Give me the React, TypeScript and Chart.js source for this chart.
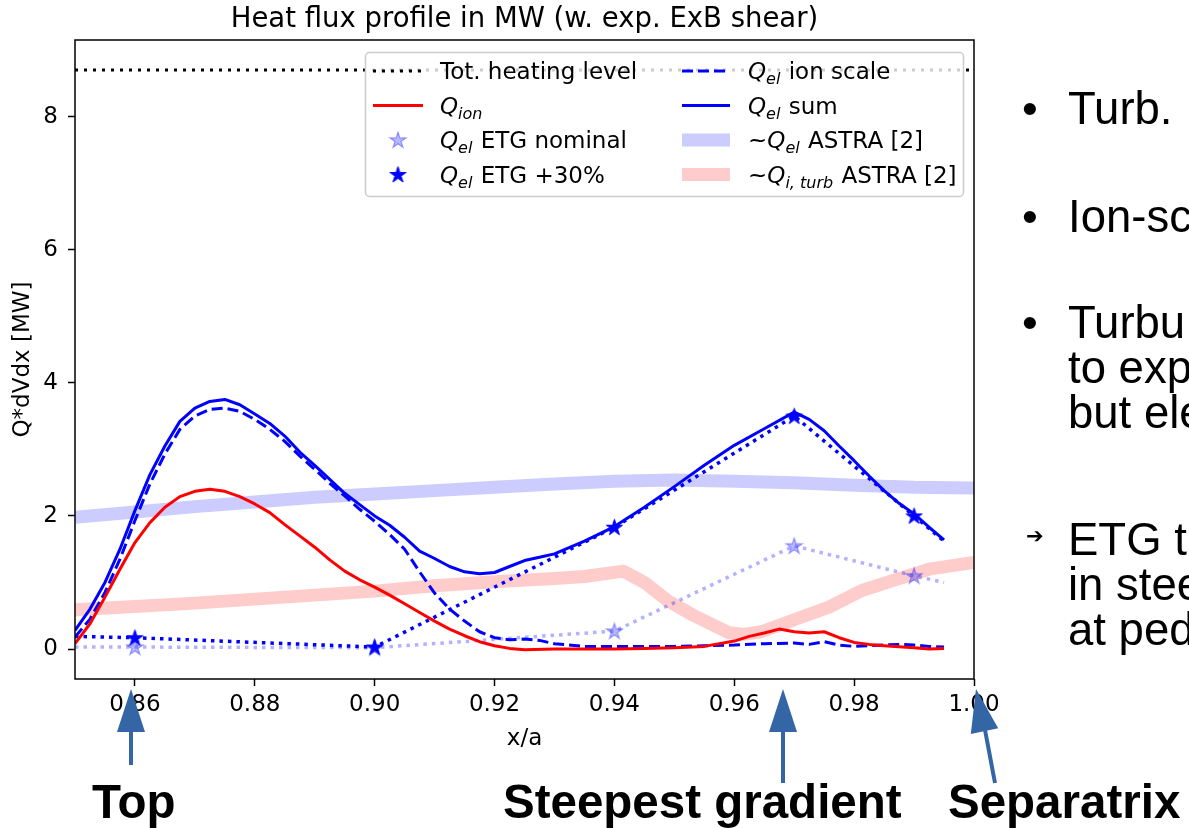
import React, { useEffect, useRef } from 'react';
import { Chart, registerables } from 'chart.js';

Chart.register(...registerables);

// ---------------- data ----------------
const TITLE = 'Heat flux profile in MW (w. exp. ExB shear)';
const X_LABEL = 'x/a';
const Y_LABEL = 'Q*dVdx [MW]';

const xTicks = [0.86, 0.88, 0.9, 0.92, 0.94, 0.96, 0.98, 1.0];
const yTicks = [0, 2, 4, 6, 8];

const heatingX = [0.85, 1.0];
const heatingY = [8.7, 8.7];

const qionX = [0.850, 0.8525, 0.855, 0.8575, 0.860, 0.8625, 0.865, 0.8675, 0.870, 0.8725, 0.875, 0.8775, 0.880, 0.8825, 0.885, 0.8875, 0.890, 0.8925, 0.895, 0.8975, 0.900, 0.9025, 0.905, 0.9075, 0.910, 0.9125, 0.915, 0.9175, 0.920, 0.9225, 0.925, 0.930, 0.935, 0.940, 0.945, 0.950, 0.955, 0.960, 0.9625, 0.965, 0.9675, 0.970, 0.9725, 0.975, 0.9775, 0.980, 0.9825, 0.985, 0.990, 0.9925, 0.995];
const qionY = [0.08, 0.38, 0.78, 1.2, 1.6, 1.9, 2.13, 2.29, 2.37, 2.4, 2.37, 2.29, 2.18, 2.05, 1.87, 1.7, 1.53, 1.34, 1.17, 1.04, 0.93, 0.81, 0.68, 0.55, 0.42, 0.3, 0.2, 0.11, 0.05, 0.01, -0.01, 0.0, 0.0, 0.0, 0.01, 0.02, 0.04, 0.12, 0.19, 0.24, 0.3, 0.26, 0.24, 0.26, 0.17, 0.1, 0.07, 0.05, 0.02, 0.0, 0.01];

const elX = [0.850, 0.8525, 0.855, 0.8575, 0.860, 0.8625, 0.865, 0.8675, 0.870, 0.8725, 0.875, 0.8775, 0.880, 0.8825, 0.885, 0.8875, 0.890, 0.8925, 0.895, 0.8975, 0.900, 0.9025, 0.905, 0.9075, 0.910, 0.9125, 0.915, 0.9175, 0.920, 0.9225, 0.925, 0.9275, 0.930, 0.935, 0.940, 0.945, 0.950, 0.955, 0.960, 0.965, 0.970, 0.9725, 0.975, 0.9775, 0.980, 0.9825, 0.985, 0.9875, 0.990, 0.9925, 0.995];
const elSumY = [0.28, 0.6, 1.0, 1.5, 2.08, 2.62, 3.05, 3.42, 3.62, 3.72, 3.75, 3.67, 3.53, 3.39, 3.2, 2.96, 2.76, 2.55, 2.34, 2.17, 2.0, 1.86, 1.68, 1.47, 1.36, 1.24, 1.16, 1.13, 1.15, 1.24, 1.33, 1.38, 1.43, 1.62, 1.84, 2.13, 2.44, 2.76, 3.06, 3.31, 3.56, 3.45, 3.28, 3.05, 2.83, 2.6, 2.38, 2.19, 2.03, 1.83, 1.64];
const elIonScaleY = [0.18, 0.45, 0.85, 1.35, 1.93, 2.48, 2.93, 3.3, 3.5, 3.6, 3.62, 3.57, 3.45, 3.3, 3.12, 2.9, 2.7, 2.49, 2.3, 2.1, 1.92, 1.72, 1.5, 1.16, 0.84, 0.6, 0.42, 0.26, 0.17, 0.14, 0.15, 0.13, 0.08, 0.04, 0.04, 0.04, 0.04, 0.05, 0.06, 0.08, 0.09, 0.07, 0.11, 0.06, 0.04, 0.05, 0.06, 0.07, 0.06, 0.04, 0.03];

const etgX = [0.85, 0.86, 0.90, 0.94, 0.97, 0.99, 0.995];
const etgMarker = [false, true, true, true, true, true, false];
const etgNominalY = [0.03, 0.03, 0.02, 0.27, 1.55, 1.1, 1.0];
const etgPlus30Y = [0.19, 0.17, 0.03, 1.83, 3.5, 2.0, 1.62];

const astraElX = [0.85, 0.86, 0.87, 0.88, 0.89, 0.90, 0.91, 0.92, 0.93, 0.94, 0.95, 0.96, 0.97, 0.98, 0.99, 1.0];
const astraElY = [1.98, 2.06, 2.14, 2.21, 2.28, 2.33, 2.38, 2.43, 2.48, 2.52, 2.54, 2.52, 2.5, 2.46, 2.43, 2.42];

const astraIonX = [0.85, 0.86, 0.87, 0.88, 0.89, 0.90, 0.91, 0.92, 0.93, 0.935, 0.9415, 0.945, 0.949, 0.9533, 0.959, 0.9615, 0.9645, 0.970, 0.9758, 0.9813, 0.9868, 0.9925, 1.0];
const astraIonY = [0.59, 0.64, 0.69, 0.75, 0.81, 0.87, 0.95, 1.01, 1.06, 1.09, 1.17, 1.0, 0.72, 0.5, 0.25, 0.22, 0.26, 0.44, 0.63, 0.88, 1.04, 1.2, 1.3];

const slideLines = [
  { text: 'Turb.', bullet: '•', top: 86 },
  { text: 'Ion-sc', bullet: '•', top: 194 },
  { text: 'Turbu', bullet: '•', top: 300 },
  { text: 'to exp', bullet: '', top: 345 },
  { text: 'but ele', bullet: '', top: 390 },
  { text: 'ETG t', bullet: '➔', top: 517 },
  { text: 'in stee', bullet: '', top: 562 },
  { text: 'at ped', bullet: '', top: 607 },
];

const bottomLabels = [
  { text: 'Top', left: 92 },
  { text: 'Steepest gradient', left: 503 },
  { text: 'Separatrix', left: 948 },
];

// ---------------- helpers ----------------
const pts = (xs: number[], ys: number[]) => xs.map((x, i) => ({ x, y: ys[i] }));

function makeStar(R: number, fill: string, stroke: string, lw: number) {
  const c = document.createElement('canvas');
  const size = Math.ceil(2 * R + 2 * lw + 2);
  c.width = size;
  c.height = size;
  const g = c.getContext('2d')!;
  const cx = size / 2;
  const cy = size / 2 + 0.6;
  const r = R * 0.382;
  g.beginPath();
  for (let i = 0; i < 10; i++) {
    const rad = i % 2 === 0 ? R : r;
    const ang = -Math.PI / 2 + (i * Math.PI) / 5;
    const px = cx + rad * Math.cos(ang);
    const py = cy + rad * Math.sin(ang);
    if (i === 0) g.moveTo(px, py);
    else g.lineTo(px, py);
  }
  g.closePath();
  g.fillStyle = fill;
  g.fill();
  g.lineWidth = lw;
  g.strokeStyle = stroke;
  g.lineJoin = 'miter';
  g.stroke();
  return c;
}

type Part = { t: string; it?: boolean; sub?: boolean };

const FONT = "'DejaVu Sans'";
const FS = 23;

function drawRich(ctx: CanvasRenderingContext2D, x: number, y: number, parts: Part[]) {
  let cx = x;
  for (const p of parts) {
    const size = p.sub ? 16 : FS;
    ctx.font = `${p.it ? 'italic ' : ''}${size}px ${FONT}`;
    ctx.fillText(p.t, cx, y + (p.sub ? 5 : 0));
    cx += ctx.measureText(p.t).width + (p.sub ? 1 : 0);
  }
}

const Qel: Part[] = [{ t: 'Q', it: true }, { t: 'el', it: true, sub: true }];

export default function App() {
  const ref = useRef<HTMLCanvasElement>(null);

  useEffect(() => {
    const darkStar = makeStar(8.5, '#0000ff', '#0000ff', 1);
    const lightStar = makeStar(8.5, 'rgba(0,0,255,0.28)', 'rgba(0,0,255,0.35)', 1.2);

    const overlay = {
      id: 'overlay',
      afterDraw(chart: any) {
        const { ctx, chartArea: a } = chart;
        ctx.save();
        // legend box
        ctx.beginPath();
        ctx.roundRect(365.5, 52.5, 598, 144, 4);
        ctx.fillStyle = 'rgba(255,255,255,0.8)';
        ctx.fill();
        ctx.lineWidth = 1.5;
        ctx.strokeStyle = '#cccccc';
        ctx.stroke();

        const rows = [71, 105.5, 140, 174.5];
        const L1 = 373, L2 = 423, R1 = 682, R2 = 730;
        const seg = (x1: number, x2: number, y: number, color: string, lw: number, dash: number[]) => {
          ctx.beginPath();
          ctx.setLineDash(dash);
          ctx.strokeStyle = color;
          ctx.lineWidth = lw;
          ctx.lineCap = 'butt';
          ctx.moveTo(x1, y);
          ctx.lineTo(x2, y);
          ctx.stroke();
          ctx.setLineDash([]);
        };
        seg(L1, L2, rows[0], '#000', 3, [3, 6]);
        seg(L1, L2, rows[1], '#ff0000', 3, []);
        ctx.drawImage(lightStar, 398 - lightStar.width / 2, rows[2] - lightStar.height / 2);
        ctx.drawImage(darkStar, 398 - darkStar.width / 2, rows[3] - darkStar.height / 2);
        seg(R1, R2, rows[0], '#0000ff', 3, [11, 5]);
        seg(R1, R2, rows[1], '#0000ff', 3, []);
        seg(R1, R2, rows[2], 'rgba(0,0,255,0.2)', 13, []);
        seg(R1, R2, rows[3], 'rgba(255,0,0,0.2)', 13, []);

        ctx.fillStyle = '#000';
        ctx.textAlign = 'left';
        ctx.textBaseline = 'alphabetic';
        const tx1 = 440, tx2 = 748, off = 8;
        drawRich(ctx, tx1, rows[0] + off, [{ t: 'Tot. heating level' }]);
        drawRich(ctx, tx1, rows[1] + off, [{ t: 'Q', it: true }, { t: 'ion', it: true, sub: true }]);
        drawRich(ctx, tx1, rows[2] + off, [...Qel, { t: ' ETG nominal' }]);
        drawRich(ctx, tx1, rows[3] + off, [...Qel, { t: ' ETG +30%' }]);
        drawRich(ctx, tx2, rows[0] + off, [...Qel, { t: ' ion scale' }]);
        drawRich(ctx, tx2, rows[1] + off, [...Qel, { t: ' sum' }]);
        drawRich(ctx, tx2, rows[2] + off, [{ t: '~' }, ...Qel, { t: ' ASTRA [2]' }]);
        drawRich(ctx, tx2, rows[3] + off, [{ t: '~' }, { t: 'Q', it: true }, { t: 'i, turb', it: true, sub: true }, { t: ' ASTRA [2]' }]);

        // frame
        ctx.strokeStyle = '#000';
        ctx.lineWidth = 1.5;
        ctx.strokeRect(a.left, a.top, a.right - a.left, a.bottom - a.top);

        // titles
        ctx.fillStyle = '#000';
        ctx.textAlign = 'center';
        ctx.font = `27.5px ${FONT}`;
        ctx.fillText(TITLE, (a.left + a.right) / 2, 27);
        ctx.font = `${FS}px ${FONT}`;
        ctx.fillText(X_LABEL, (a.left + a.right) / 2, 745);
        ctx.translate(29, (a.top + a.bottom) / 2);
        ctx.rotate(-Math.PI / 2);
        ctx.fillText(Y_LABEL, 0, 0);
        ctx.restore();
      },
    };

    const tickFont = { family: FONT, size: FS };
    const chart = new Chart(ref.current!, {
      type: 'line',
      data: {
        datasets: [
          { label: 'Tot. heating level', data: pts(heatingX, heatingY), borderColor: '#000', borderWidth: 3, borderDash: [3, 6], pointRadius: 0, order: 5 },
          { label: 'Q_ion', data: pts(qionX, qionY), borderColor: '#ff0000', borderWidth: 3, pointRadius: 0, order: 1 },
          { label: 'Q_el ETG nominal', data: pts(etgX, etgNominalY), borderColor: 'rgba(0,0,255,0.3)', borderWidth: 3.5, borderDash: [3.5, 5], pointStyle: lightStar as any, pointRadius: etgMarker.map((m) => (m ? 8 : 0)), order: 4 },
          { label: 'Q_el ETG +30%', data: pts(etgX, etgPlus30Y), borderColor: '#0000ff', borderWidth: 3.5, borderDash: [3.5, 5], pointStyle: darkStar as any, pointRadius: etgMarker.map((m) => (m ? 8 : 0)), order: 2 },
          { label: 'Q_el ion scale', data: pts(elX, elIonScaleY), borderColor: '#0000ff', borderWidth: 3, borderDash: [11, 5], pointRadius: 0, order: 3 },
          { label: 'Q_el sum', data: pts(elX, elSumY), borderColor: '#0000ff', borderWidth: 3, pointRadius: 0, order: 2 },
          { label: '~Q_el ASTRA [2]', data: pts(astraElX, astraElY), borderColor: 'rgba(0,0,255,0.2)', borderWidth: 13, pointRadius: 0, order: 10 },
          { label: '~Q_i,turb ASTRA [2]', data: pts(astraIonX, astraIonY), borderColor: 'rgba(255,0,0,0.2)', borderWidth: 13, pointRadius: 0, order: 10 },
        ].map((d) => ({ ...d, tension: 0, clip: 0, fill: false, borderJoinStyle: 'round' as const })),
      },
      options: {
        animation: false,
        responsive: false,
        devicePixelRatio: 1,
        events: [],
        layout: { padding: { left: 0, top: 40, right: 215, bottom: 0 } },
        plugins: { legend: { display: false }, tooltip: { enabled: false }, title: { display: false } },
        scales: {
          x: {
            type: 'linear',
            min: 0.85,
            max: 1.0,
            afterBuildTicks: (s: any) => {
              s.ticks = xTicks.map((v) => ({ value: v }));
            },
            afterFit: (s: any) => {
              s.height = 149;
              s.paddingLeft = 0;
              s.paddingRight = 0;
            },
            ticks: { callback: (v: any) => Number(v).toFixed(2), font: tickFont, color: '#000', padding: 5, maxRotation: 0, autoSkip: false },
            grid: { drawOnChartArea: false, drawTicks: true, tickLength: 7, tickWidth: 1.5, tickColor: '#000', color: '#000' },
            border: { display: false },
          },
          y: {
            type: 'linear',
            min: -0.45,
            max: 9.15,
            afterBuildTicks: (s: any) => {
              s.ticks = yTicks.map((v) => ({ value: v }));
            },
            afterFit: (s: any) => {
              s.width = 75;
              s.paddingTop = 0;
              s.paddingBottom = 0;
            },
            ticks: { callback: (v: any) => String(v), font: tickFont, color: '#000', padding: 10, autoSkip: false },
            grid: { drawOnChartArea: false, drawTicks: true, tickLength: 7, tickWidth: 1.5, tickColor: '#000', color: '#000' },
            border: { display: false },
          },
        },
      } as any,
      plugins: [overlay],
    });
    return () => chart.destroy();
  }, []);

  const arrowColor = '#3465a4';
  return (
    <div style={{ position: 'fixed', left: 0, top: 0, width: 1189, height: 828, overflow: 'hidden', background: '#fff' }}>
      <canvas ref={ref} width={1189} height={828} style={{ position: 'absolute', left: 0, top: 0, width: 1189, height: 828 }} />
      <svg width={1189} height={828} style={{ position: 'absolute', left: 0, top: 0, pointerEvents: 'none' }}>
        <line x1={131} y1={765} x2={131} y2={728} stroke={arrowColor} strokeWidth={4} />
        <polygon points="131,689 117,732 145,732" fill={arrowColor} />
        <line x1={783} y1={783} x2={783} y2={728} stroke={arrowColor} strokeWidth={4} />
        <polygon points="783,689 769,732 797,732" fill={arrowColor} />
        <line x1={995} y1={783} x2={985} y2={730} stroke={arrowColor} strokeWidth={4} />
        <polygon points="976,689 998.2,728.3 970.8,733.9" fill={arrowColor} />
      </svg>
      {slideLines.map((l, i) => (
        <React.Fragment key={i}>
          {l.bullet === '•' && (
            <span style={{ position: 'absolute', left: 1022, top: l.top, fontFamily: "'Liberation Sans', Arial, sans-serif", fontSize: 45, lineHeight: '45px', color: '#000', whiteSpace: 'nowrap' }}>•</span>
          )}
          {l.bullet === '➔' && (
            <span style={{ position: 'absolute', left: 1026, top: l.top + 8, fontFamily: "'DejaVu Sans', sans-serif", fontSize: 21, lineHeight: '22px', color: '#000', whiteSpace: 'nowrap' }}>➔</span>
          )}
          <span style={{ position: 'absolute', left: 1068, top: l.top, fontFamily: "'Liberation Sans', Arial, sans-serif", fontSize: 45.5, lineHeight: '45px', color: '#000', whiteSpace: 'nowrap' }}>{l.text}</span>
        </React.Fragment>
      ))}
      {bottomLabels.map((b, i) => (
        <span key={i} style={{ position: 'absolute', left: b.left, top: 778, fontFamily: "'Liberation Sans', Arial, sans-serif", fontWeight: 'bold', fontSize: 47.5, lineHeight: '47px', color: '#000', whiteSpace: 'nowrap' }}>{b.text}</span>
      ))}
    </div>
  );
}
